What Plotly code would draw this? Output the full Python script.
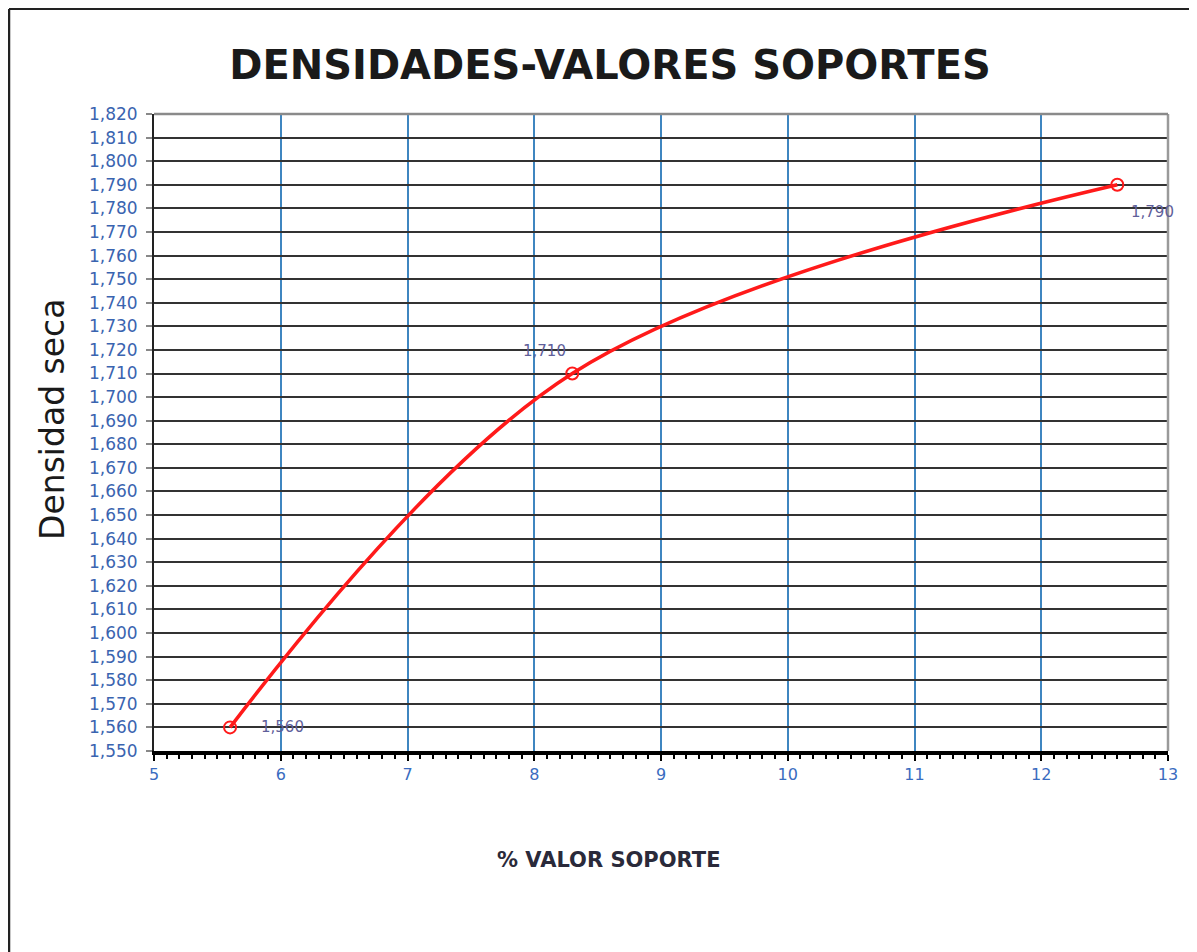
import plotly.graph_objects as go

# Data
valor_soporte = [5.6, 8.3, 12.6]
densidad_seca = [1560, 1710, 1790]

title_text = "DENSIDADES-VALORES SOPORTES"
x_title = "% VALOR SOPORTE"
y_title = "Densidad seca"

# label placement (style only): anchor, x shift, y shift in pixels
label_styles = [("left", 29, 0), ("center", -28, 23), ("left", 12, -27)]

OFF = 8  # browser default body margin
W, H = 1197 - OFF, 952 - OFF
# target plot area in page pixels: x 154..1168, y 114..751
L, T = 154 - OFF, 114 - OFF
R = W - (1168 - OFF)
B = H - (751 - OFF)
pw, ph = W - L - R, H - T - B

def px2paper_x(px):
    return (px - OFF - L) / pw

def px2paper_y(py):
    return (H - B - (py - OFF)) / ph

FONT = "DejaVu Sans, Liberation Sans, Arial"

fig = go.Figure()
fig.add_trace(go.Scatter(
    x=valor_soporte, y=densidad_seca,
    mode="lines+markers",
    line=dict(color="#ff1a1a", width=3.5, shape="spline", smoothing=1.0),
    marker=dict(symbol="circle-open", size=12, color="#ff1a1a", line=dict(width=2)),
    cliponaxis=False,
    showlegend=False,
))

annotations = [
    dict(text=y_title, xref="paper", yref="paper", x=px2paper_x(52), y=px2paper_y(420),
         textangle=-90, showarrow=False, xanchor="center", yanchor="middle",
         font=dict(size=33, color="#1a1a1a", family=FONT)),
    dict(text=f"<b>{x_title}</b>", xref="paper", yref="paper", x=px2paper_x(609), y=px2paper_y(860),
         showarrow=False, xanchor="center", yanchor="middle",
         font=dict(size=21, color="#2a2a3a", family=FONT)),
]
for xv, yv, (anc, dx, dy) in zip(valor_soporte, densidad_seca, label_styles):
    annotations.append(dict(
        x=xv, y=yv, xref="x", yref="y", text=f"{yv:,}", showarrow=False,
        xanchor=anc, yanchor="middle", xshift=dx, yshift=dy,
        font=dict(size=15, color="#5f5f9a", family=FONT)))

fig.update_layout(
    width=W, height=H,
    margin=dict(l=L, r=R, t=T, b=B),
    paper_bgcolor="white", plot_bgcolor="white",
    font=dict(family=FONT),
    title=dict(text=f"<b>{title_text}</b>", x=(610 - OFF) / W, xref="container", xanchor="center",
               y=1 - (65 - OFF) / H, yref="container", yanchor="middle",
               font=dict(size=40, color="#1a1a1a", family=FONT)),
    xaxis=dict(range=[5, 13], dtick=1, tick0=5,
               showgrid=True, gridcolor="#3f86c0", gridwidth=1.6,
               zeroline=False,
               showline=True, linecolor="black", linewidth=4,
               ticks="outside", ticklen=6, tickwidth=2, tickcolor="black",
               minor=dict(dtick=0.1, ticks="outside", ticklen=4, tickwidth=2, tickcolor="black", showgrid=False),
               tickfont=dict(size=16, color="#3a6cc0"),
               mirror=False),
    yaxis=dict(range=[1550, 1820], dtick=10, tick0=1550,
               tickformat=",d",
               showgrid=True, gridcolor="#333333", gridwidth=1.8,
               zeroline=False,
               showline=True, linecolor="#222222", linewidth=2,
               ticks="outside", ticklen=6, tickwidth=1.5, tickcolor="#888888",
               ticklabelstandoff=5,
               tickfont=dict(size=17, color="#3a64b0")),
    annotations=annotations,
    shapes=[
        # outer chart border
        dict(type="line", xref="paper", yref="paper", x0=px2paper_x(9), x1=px2paper_x(1193),
             y0=px2paper_y(9), y1=px2paper_y(9), line=dict(color="#222222", width=2)),
        dict(type="line", xref="paper", yref="paper", x0=px2paper_x(9), x1=px2paper_x(9),
             y0=px2paper_y(9), y1=px2paper_y(960), line=dict(color="#222222", width=2.5)),
        dict(type="line", xref="paper", yref="paper", x0=px2paper_x(1193), x1=px2paper_x(1193),
             y0=px2paper_y(9), y1=px2paper_y(960), line=dict(color="#aaaaaa", width=1.5)),
        # plot-area right and top borders
        dict(type="line", xref="paper", yref="paper", x0=1, x1=1, y0=0, y1=1,
             line=dict(color="#9a9a9a", width=2.5)),
        dict(type="line", xref="paper", yref="paper", x0=0, x1=1, y0=1, y1=1,
             line=dict(color="#8a8a8a", width=2.5)),
    ],
)

fig.write_html("out.html")
